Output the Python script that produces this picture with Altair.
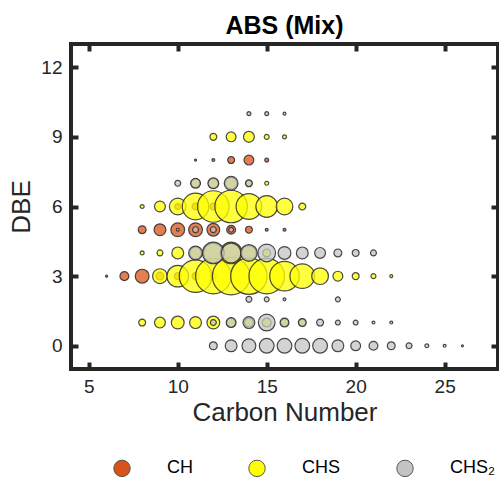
import altair as alt
import pandas as pd

# Relative abundance (%) of each formula, by carbon number and DBE, per compound class
CH_C = [6, 7, 8, 9, 10, 11, 12,
        8, 9, 10, 11, 12, 13, 14, 15, 16,
        10, 11, 12,
        11, 12, 13, 14, 15]
CH_DBE = [3, 3, 3, 3, 3, 3, 3,
          5, 5, 5, 5, 5, 5, 5, 5, 5,
          6, 6, 6,
          8, 8, 8, 8, 8]
CH_ABUND = [0.3, 5.6, 13.6, 4.4, 3.4, 3.4, 2.5,
            4.4, 10.0, 13.6, 13.6, 11.7, 5.6, 3.4, 0.6, 0.6,
            2.5, 3.4, 3.4,
            0.3, 0.6, 3.4, 6.9, 1.1]

CHS_C = [8, 9, 10, 11, 12, 13, 14, 15, 16, 17,
         9, 10, 11, 12, 13, 14, 15, 16, 17, 18, 19, 20, 21, 22,
         8, 9, 10, 11, 12, 13, 14, 15,
         8, 9, 10, 11, 12, 13, 14, 15, 16, 17,
         11, 12, 13, 14, 15,
         12, 13, 14, 15, 16]
CHS_DBE = [1, 1, 1, 1, 1, 1, 1, 1, 1, 1,
           3, 3, 3, 3, 3, 3, 3, 3, 3, 3, 3, 3, 3, 3,
           4, 4, 4, 4, 4, 4, 4, 4,
           6, 6, 6, 6, 6, 6, 6, 6, 6, 6,
           7, 7, 7, 7, 7,
           9, 9, 9, 9, 9]
CHS_ABUND = [3.4, 8.4, 11.7, 10.0, 11.7, 5.6, 5.6, 5.6, 4.4, 3.4,
             15.6, 33.5, 75.4, 89.8, 100.0, 94.8, 89.8, 62.3, 43.3, 20.0, 6.9, 3.4, 1.7, 0.6,
             1.1, 2.5, 10.0, 10.0, 27.7, 33.5, 15.6, 4.4,
             1.1, 8.4, 20.0, 50.5, 70.9, 75.4, 46.8, 33.5, 20.0, 3.4,
             5.6, 6.9, 10.0, 2.5, 1.1,
             3.4, 6.9, 8.4, 1.7, 1.1]

CHS2_C = [12, 13, 14, 15, 16, 17, 18, 19, 20, 21, 22, 23, 24, 25, 26,
          12, 13, 14, 15, 16, 17, 18, 19, 20, 21, 22,
          14, 15, 16, 19,
          11, 12, 13, 14, 15, 16, 17, 18, 19, 20, 21,
          10, 11, 12, 13,
          10, 11, 12, 13, 14,
          14, 15, 16]
CHS2_DBE = [0, 0, 0, 0, 0, 0, 0, 0, 0, 0, 0, 0, 0, 0, 0,
            1, 1, 1, 1, 1, 1, 1, 1, 1, 1, 1,
            2, 2, 2, 2,
            4, 4, 4, 4, 4, 4, 4, 4, 4, 4, 4,
            5, 5, 5, 5,
            7, 7, 7, 7, 7,
            10, 10, 10]
CHS2_ABUND = [4.4, 10.0, 13.6, 15.6, 15.6, 15.6, 15.6, 10.0, 6.9, 5.6, 4.4, 2.5, 1.1, 0.6, 0.3,
              2.5, 6.9, 10.0, 20.0, 5.6, 4.4, 3.4, 1.7, 1.7, 0.6, 0.6,
              2.5, 1.7, 0.6, 1.7,
              13.6, 33.5, 27.7, 20.0, 22.4, 11.7, 10.0, 8.4, 4.4, 3.4, 2.5,
              0.6, 2.5, 2.5, 1.7,
              2.5, 6.9, 8.4, 13.6, 3.4,
              1.1, 1.1, 0.6]

CLASSES = ["CH", "CHS", "CHS2"]
CLASS_COLORS = ["#D95319", "#FFFF00", "#C4C4C4"]

X_TICKS = [5, 10, 15, 20, 25]
Y_TICKS = [0, 3, 6, 9, 12]
X_DOMAIN = [4, 28]
Y_DOMAIN = [-1, 13]

frames = []
for name, c, d, a in [("CH", CH_C, CH_DBE, CH_ABUND),
                      ("CHS", CHS_C, CHS_DBE, CHS_ABUND),
                      ("CHS2", CHS2_C, CHS2_DBE, CHS2_ABUND)]:
    frames.append(pd.DataFrame({"cls": name, "carbon": c, "dbe": d, "abund": a}))
df = pd.concat(frames, ignore_index=True)

FONT = "Liberation Sans"
INK = "#262626"
TICK_LEN = 7

x_scale = alt.Scale(domain=X_DOMAIN, nice=False, zero=False)
y_scale = alt.Scale(domain=Y_DOMAIN, nice=False, zero=False)

bubbles = alt.Chart(df).mark_circle(
    fillOpacity=0.75, stroke="#2a2a2a", strokeWidth=1.2, strokeOpacity=0.85
).encode(
    x=alt.X("carbon:Q", scale=x_scale,
            axis=alt.Axis(orient="bottom", values=X_TICKS, title="Carbon Number",
                          offset=-TICK_LEN, tickSize=TICK_LEN, labelPadding=8,
                          titlePadding=3)),
    y=alt.Y("dbe:Q", scale=y_scale,
            axis=alt.Axis(orient="left", values=Y_TICKS, title="DBE",
                          offset=-TICK_LEN, tickSize=TICK_LEN, labelPadding=9,
                          titlePadding=6)),
    size=alt.Size("abund:Q", scale=alt.Scale(domain=[0, 100], range=[0, 1400], zero=True),
                  legend=None),
    fill=alt.Fill("cls:N", scale=alt.Scale(domain=CLASSES, range=CLASS_COLORS),
                  legend=alt.Legend(
                      title=None, orient="none", direction="horizontal",
                      legendX=42, legendY=415,
                      symbolType="circle", symbolSize=270, symbolOpacity=1,
                      symbolStrokeColor="#555555", symbolStrokeWidth=1,
                      labelFont=FONT, labelFontSize=18, labelColor="#000000",
                      labelOffset=36, columnPadding=53,
                      labelExpr="datum.label == 'CHS2' ? 'CHS\u2082' : datum.label")),
)

# Mirrored inward ticks on the top and right edges of the box
mirror = alt.Chart(df).mark_point(opacity=0).encode(
    x=alt.X("carbon:Q", scale=x_scale,
            axis=alt.Axis(orient="top", values=X_TICKS, labels=False, title=None,
                          offset=-TICK_LEN, tickSize=TICK_LEN)),
    y=alt.Y("dbe:Q", scale=y_scale,
            axis=alt.Axis(orient="right", values=Y_TICKS, labels=False, title=None,
                          offset=-TICK_LEN, tickSize=TICK_LEN)),
)

chart = alt.layer(bubbles, mirror).properties(
    width=427, height=325,
    title=alt.TitleParams("ABS (Mix)", font=FONT, fontSize=25, fontWeight="bold",
                          color="#000000", anchor="middle", offset=3),
    autosize=alt.AutoSizeParams(type="none"),
    padding={"left": 71, "top": 44, "right": 1, "bottom": 112},
).configure(
    background="white"
).configure_view(
    stroke=INK, strokeWidth=4
).configure_axis(
    domain=False, grid=False, ticks=True, tickColor=INK, tickWidth=4,
    labelFont=FONT, labelFontSize=19, labelColor=INK,
    titleFont=FONT, titleFontSize=26, titleColor=INK, titleFontWeight="normal",
)

chart.save("out.html", embed_options={"renderer": "svg", "actions": False})
